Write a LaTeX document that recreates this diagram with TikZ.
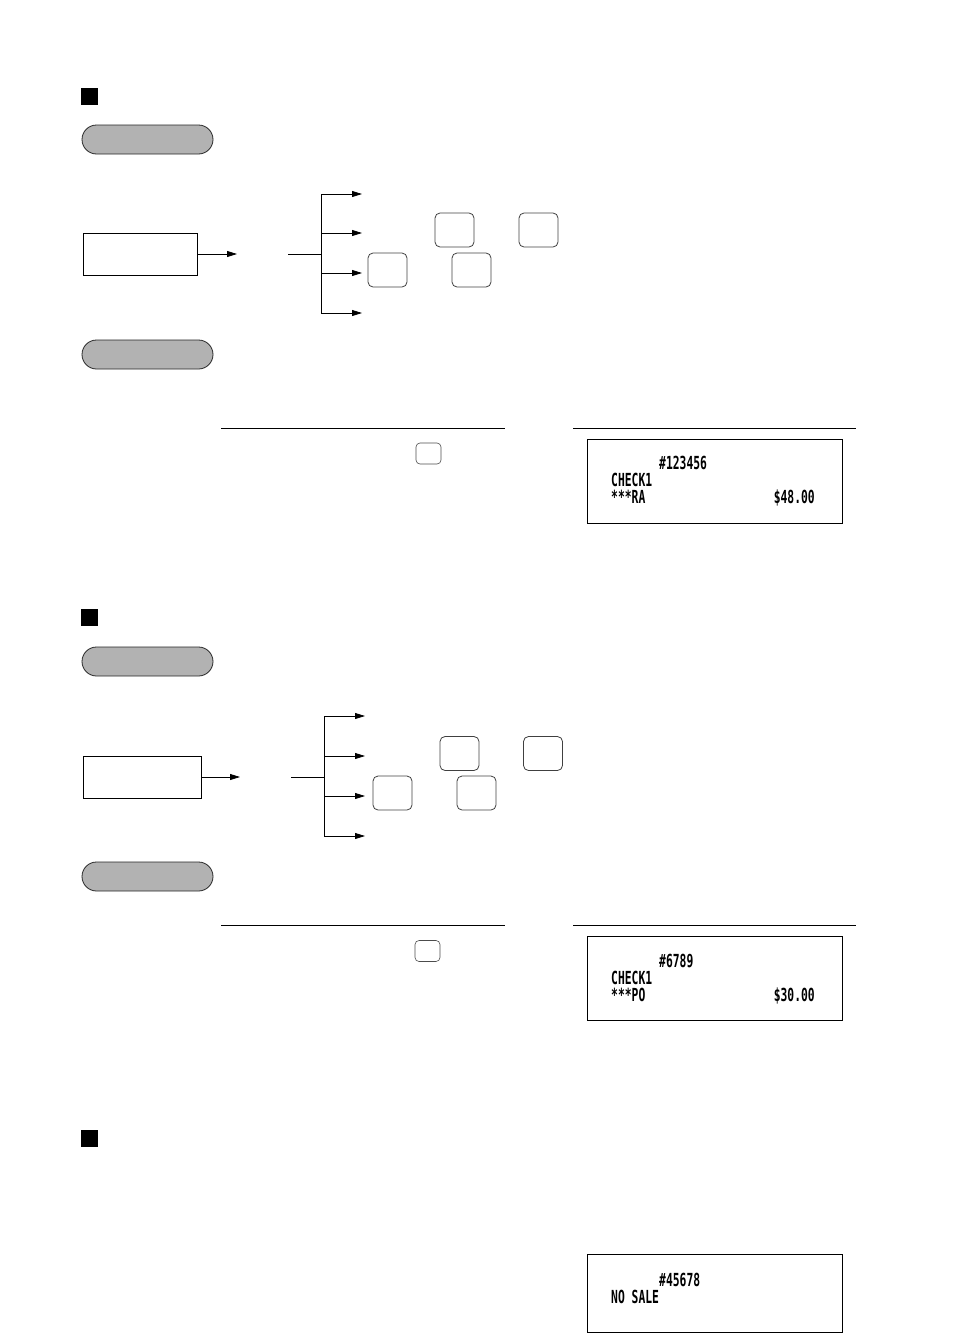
\documentclass[tikz,border=0pt]{standalone}
\usepackage{fontspec}
\usetikzlibrary{arrows.meta}
\newfontfamily\rcptfont[FakeStretch=0.63]{DejaVu Sans Mono Bold}
\begin{document}
\begin{tikzpicture}[x=1pt,y=-1pt,
  sqmark/.style={fill=black,draw=none,minimum size=17pt,inner sep=0pt},
  pill/.style={draw=black!85,fill=black!30,rounded corners=14.5pt,minimum width=131pt,minimum height=29pt,inner sep=0pt,line width=0.8pt},
  inbox/.style={draw=black,line width=0.8pt,minimum height=42pt,inner sep=0pt},
  keybox/.style={draw=black!75,rounded corners=5pt,minimum width=39pt,minimum height=34pt,inner sep=0pt,line width=0.8pt},
  smallkey/.style={draw=black!70,rounded corners=4pt,minimum width=25pt,minimum height=21pt,inner sep=0pt,line width=0.6pt},
  receipt/.style={draw=black,line width=0.8pt,minimum width=255pt,inner sep=0pt},
  rtext/.style={anchor=base west,inner sep=0pt,font=\rcptfont\fontsize{18pt}{18pt}\selectfont},
  rtextr/.style={anchor=base east,inner sep=0pt,font=\rcptfont\fontsize{18pt}{18pt}\selectfont},
  arr/.style={-{Triangle[length=10pt,width=6pt]},line width=0.8pt},
  ln/.style={line width=0.8pt}]
\useasboundingbox (0,0) rectangle (971,1333);

% ---------------- Section 1 ----------------
\node[sqmark] (sq1) at (89.5,96) {};
\node[pill] (pa1) at (147.5,139.5) {};
\node[inbox,minimum width=114pt] (in1) at (140,254) {};
\coordinate (a1) at (237,254);
\draw[arr] (in1.east) -- (a1);
\coordinate (b1) at (288,254);
\coordinate (j1) at (321,254);
\coordinate (t1) at (321,194);
\coordinate (m11) at (321,233);
\coordinate (m12) at (321,273);
\coordinate (u1) at (321,313);
\coordinate (e11) at (362,194);
\coordinate (e12) at (362,233);
\coordinate (e13) at (362,273);
\coordinate (e14) at (362,313);
\draw[ln] (b1) -- (j1);
\draw[ln] (t1) -- (u1);
\draw[arr] (t1) -- (e11);
\draw[arr] (m11) -- (e12);
\draw[arr] (m12) -- (e13);
\draw[arr] (u1) -- (e14);
\node[keybox] (k11) at (454.5,230) {};
\node[keybox] (k12) at (538.5,230) {};
\node[keybox] (k13) at (387.5,270) {};
\node[keybox] (k14) at (471.5,270) {};
\node[pill] (pb1) at (147.5,354.5) {};
\coordinate (l1a) at (221,428);
\coordinate (l1b) at (505,428);
\coordinate (l1c) at (573,428);
\coordinate (l1d) at (856,428);
\draw[ln] (l1a) -- (l1b);
\draw[ln] (l1c) -- (l1d);
\node[smallkey] (sk1) at (428.5,453.5) {};
\node[receipt,minimum height=84pt] (r1) at (714.5,481) {};
\node[rtext] (r1a) at (659,469.5) {\#123456};
\node[rtext] (r1b) at (611,486.5) {CHECK1};
\node[rtext] (r1c) at (611,503.5) {***RA};
\node[rtextr] (r1d) at (815,503.5) {\$48.00};

% ---------------- Section 2 ----------------
\node[sqmark] (sq2) at (89.5,617.5) {};
\node[pill] (pa2) at (147.5,661.5) {};
\node[inbox,minimum width=118pt] (in2) at (142,777) {};
\coordinate (a2) at (240,777);
\draw[arr] (in2.east) -- (a2);
\coordinate (b2) at (291,777);
\coordinate (j2) at (324,777);
\coordinate (t2) at (324,716);
\coordinate (m21) at (324,756);
\coordinate (m22) at (324,796);
\coordinate (u2) at (324,836);
\coordinate (e21) at (365,716);
\coordinate (e22) at (365,756);
\coordinate (e23) at (365,796);
\coordinate (e24) at (365,836);
\draw[ln] (b2) -- (j2);
\draw[ln] (t2) -- (u2);
\draw[arr] (t2) -- (e21);
\draw[arr] (m21) -- (e22);
\draw[arr] (m22) -- (e23);
\draw[arr] (u2) -- (e24);
\node[keybox] (k21) at (459.5,753.5) {};
\node[keybox] (k22) at (543,753.5) {};
\node[keybox] (k23) at (392.5,793) {};
\node[keybox] (k24) at (476.5,793) {};
\node[pill] (pb2) at (147.5,876.5) {};
\coordinate (l2a) at (221,925);
\coordinate (l2b) at (505,925);
\coordinate (l2c) at (573,925);
\coordinate (l2d) at (856,925);
\draw[ln] (l2a) -- (l2b);
\draw[ln] (l2c) -- (l2d);
\node[smallkey] (sk2) at (427.5,951) {};
\node[receipt,minimum height=84pt] (r2) at (714.5,978) {};
\node[rtext] (r2a) at (659,967.5) {\#6789};
\node[rtext] (r2b) at (611,984.5) {CHECK1};
\node[rtext] (r2c) at (611,1001.5) {***PO};
\node[rtextr] (r2d) at (815,1001.5) {\$30.00};

% ---------------- Section 3 ----------------
\node[sqmark] (sq3) at (89.5,1138.5) {};
\node[receipt,minimum height=78pt] (r3) at (714.5,1293) {};
\node[rtext] (r3a) at (659,1286.5) {\#45678};
\node[rtext] (r3b) at (611,1303.5) {NO SALE};
\end{tikzpicture}
\end{document}
